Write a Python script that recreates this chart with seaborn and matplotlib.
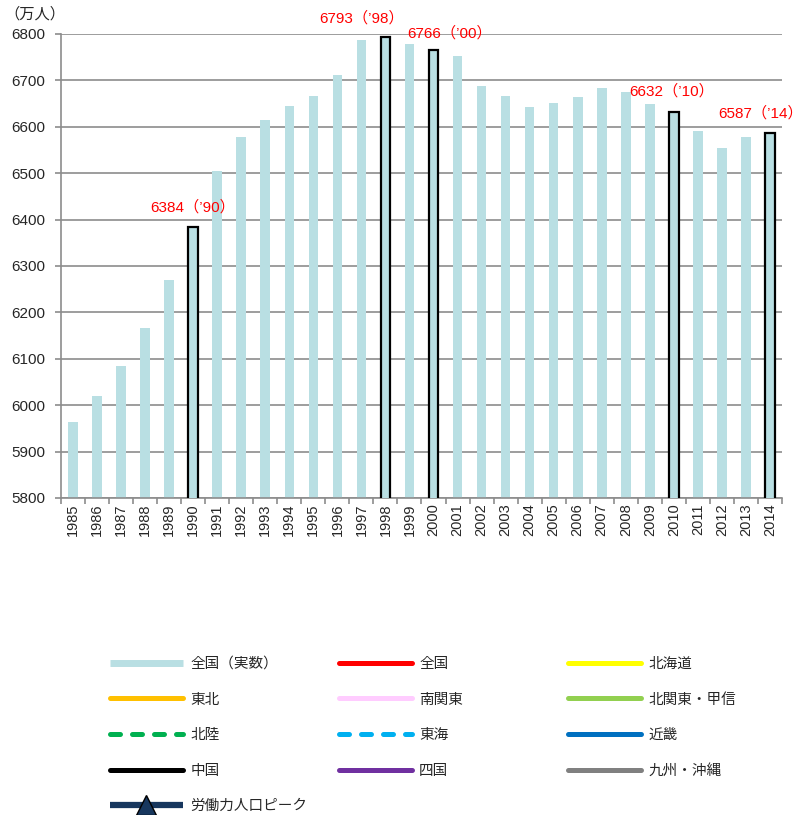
import matplotlib
matplotlib.use("Agg")
import matplotlib.pyplot as plt
from matplotlib.lines import Line2D
import seaborn as sns
import pandas as pd

# ---- data ----
years = [str(y) for y in range(1985, 2015)]
labor_force = [5963, 6020, 6084, 6166, 6270, 6384, 6505, 6578, 6615, 6645,
               6666, 6711, 6787, 6793, 6779, 6766, 6752, 6689, 6666, 6642,
               6651, 6664, 6684, 6674, 6650, 6632, 6591, 6555, 6577, 6587]
peak_years = ["1990", "1998", "2000", "2010", "2014"]
peak_labels = ["6384（’90）", "6793（’98）", "6766（’00）", "6632（’10）", "6587（’14）"]
y_ticks = [5800, 5900, 6000, 6100, 6200, 6300, 6400, 6500, 6600, 6700, 6800]
unit_label = "（万人）"
legend_col1 = ["全国（実数）", "東北", "北陸", "中国", "労働力人口ピーク"]
legend_col2 = ["全国", "南関東", "東海", "四国"]
legend_col3 = ["北海道", "北関東・甲信", "近畿", "九州・沖縄"]

df = pd.DataFrame({"year": years, "value": labor_force})

sns.set_style("white")
plt.rcParams["font.family"] = ["Liberation Sans", "Noto Sans CJK JP", "DejaVu Sans"]

W, H = 802, 815
fig = plt.figure(figsize=(W / 100, H / 100), dpi=100)
ax = fig.add_axes([61 / W, 1 - 498 / H, (782 - 61) / W, (498 - 34) / H])

bar_color = "#B9DFE3"
sns.barplot(data=df, x="year", y="value", color=bar_color, saturation=1,
            width=0.4, linewidth=0, ax=ax)

for patch, yr in zip(ax.patches, years):
    if yr in peak_years:
        patch.set_edgecolor("black")
        patch.set_linewidth(1.6)
        patch.set_zorder(3)

ax.set_ylim(5800, 6800)
ax.set_xlim(-0.5, len(years) - 0.5)
ax.set_yticks(y_ticks)
ax.set_yticklabels([str(t) for t in y_ticks], fontsize=11)
ax.set_axisbelow(True)
ax.grid(axis="y", color="#8C8C8C", linewidth=1.2)
ax.grid(axis="x", visible=False)
ax.set_xlabel("")
ax.set_ylabel("")

for s in ["top", "right"]:
    ax.spines[s].set_visible(False)
for s in ["left", "bottom"]:
    ax.spines[s].set_color("#8C8C8C")
    ax.spines[s].set_linewidth(1.2)

ax.tick_params(axis="y", length=4, width=1.2, color="#8C8C8C", pad=7.5, left=True)
ax.tick_params(axis="x", which="major", length=0, pad=4, labelsize=10.5, rotation=90)
ax.set_xticks([i - 0.5 for i in range(len(years) + 1)], minor=True)
ax.tick_params(axis="x", which="minor", length=4, width=1.2, color="#8C8C8C", bottom=True)

# annotations
offsets = {"1990": (0, 20), "1998": (-24, 19), "2000": (16, 17), "2010": (-2, 21), "2014": (-9, 20)}
for yr, lab in zip(peak_years, peak_labels):
    i = years.index(yr)
    ax.annotate(lab, xy=(i, labor_force[i]), xytext=offsets[yr],
                textcoords="offset pixels", ha="center", va="center",
                color="#FF0000", fontsize=11, annotation_clip=False)

fig.text(4 / W, 1 - 14 / H, unit_label, fontsize=11, va="center", ha="left")

# legend
def ln(color, ls="-", lw=3.6, cap="round", **kw):
    return Line2D([0], [1], color=color, linestyle=ls, linewidth=lw,
                  solid_capstyle=cap, dash_capstyle=cap, **kw)

dash = (0, (2, 2.4))
h1 = [Line2D([0], [1], color=bar_color, linewidth=5, solid_capstyle="butt"),
      ln("#FFC000"), ln("#00B050", dash), ln("#000000"),
      Line2D([0], [1], color="#17375E", linewidth=4.5, solid_capstyle="butt",
             marker="^", markersize=14, markerfacecolor="#17375E",
             markeredgecolor="#000000", markeredgewidth=1)]
h2 = [ln("#FF0000"), ln("#FFCCFF"), ln("#00B0F0", dash), ln("#7030A0")]
h3 = [ln("#FFFF00"), ln("#92D050"), ln("#0070C0"), ln("#808080")]

for hs, labs, x0 in [(h1, legend_col1, 110), (h2, legend_col2, 339), (h3, legend_col3, 568)]:
    fig.legend(hs, labs, loc="upper left", bbox_to_anchor=(x0 / W, 1 - 657 / H),
               frameon=False, fontsize=10.5, handlelength=5.0, handletextpad=0.5,
               labelspacing=1.48, borderpad=0, borderaxespad=0, numpoints=1)

fig.savefig("out.png", dpi=100)
